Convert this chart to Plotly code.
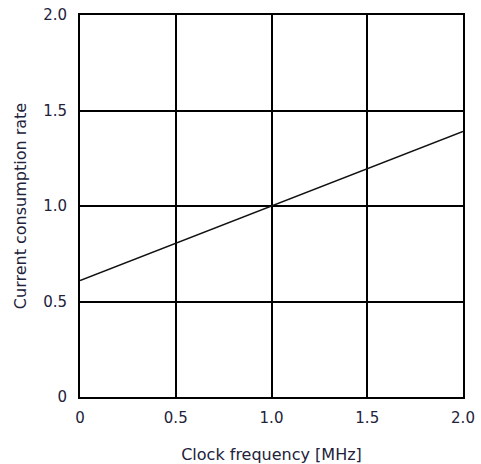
import plotly.graph_objects as go

freq_mhz = [0.0, 1.0, 2.0]
current_rate = [0.61, 1.0, 1.39]

x_ticks = [0, 0.5, 1.0, 1.5, 2.0]
x_tick_labels = ["0", "0.5", "1.0", "1.5", "2.0"]
y_ticks = [0, 0.5, 1.0, 1.5, 2.0]
y_tick_labels = ["0", "0.5", "1.0", "1.5", "2.0"]

fig = go.Figure()
fig.add_trace(go.Scatter(
    x=freq_mhz, y=current_rate, mode="lines",
    line=dict(color="#111111", width=1.5),
    showlegend=False, hoverinfo="skip",
))

axis_common = dict(
    showgrid=True, gridcolor="#000000", gridwidth=2,
    showline=True, linecolor="#000000", linewidth=2, mirror=True,
    zeroline=False, ticks="", tickfont=dict(size=15, color="#22223a"),
    fixedrange=True, automargin=False, ticklabeloverflow="allow",
)

fig.update_xaxes(
    range=[0, 2.0], tickvals=x_ticks, ticktext=x_tick_labels,
    ticklabelstandoff=6,
    title=dict(text="Clock frequency [MHz]", font=dict(size=16, color="#22223a"), standoff=26),
    **axis_common,
)
fig.update_yaxes(
    range=[0, 2.0], tickvals=y_ticks, ticktext=y_tick_labels,
    ticklabelstandoff=8,
    title=dict(text="Current consumption rate", font=dict(size=16, color="#22223a"), standoff=13),
    **axis_common,
)

fig.update_layout(
    width=481, height=464,
    margin=dict(l=80, r=18, t=15, b=67),
    font=dict(family="DejaVu Sans, Arial, sans-serif"),
    paper_bgcolor="white",
    plot_bgcolor="white",
)

# drop the default page margin so the figure fills the window exactly
fig.write_html(
    "out.html",
    config={"displayModeBar": False},
    post_script="document.body.style.margin='0';document.body.style.overflow='hidden';",
)
